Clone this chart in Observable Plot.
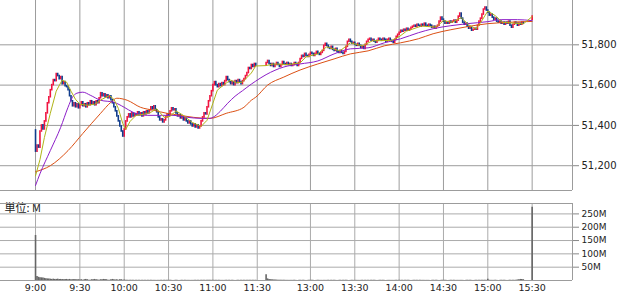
<!DOCTYPE html>
<html><head><meta charset="utf-8">
<script src="https://cdn.jsdelivr.net/npm/d3@7"></script>
<script src="https://cdn.jsdelivr.net/npm/@observablehq/plot@0.6"></script>
<style>
body{margin:0;background:#fff;}
#chart{width:618px;height:296px;position:relative;overflow:hidden;}
#chart svg{display:block;}
</style>
</head><body><div id="chart"></div>
<script>
// ---- data ----
const timeTicks = ["9:00","9:30","10:00","10:30","11:00","11:30","13:00","13:30","14:00","14:30","15:00","15:30"];
const priceTicks = [51200, 51400, 51600, 51800];
const volTicks = [50, 100, 150, 200, 250];

const firstOpen = 51375;
// 1-minute closes, 9:00 .. 11:29
const amClose = [
51270,51300,51290,51370,51400,51380,51420,51460,51510,51540,
51575,51600,51625,51620,51655,51645,51630,51640,51605,51615,
51595,51590,51575,51545,51520,51495,51510,51490,51505,51485,
51500,51515,51495,51505,51490,51510,51500,51520,51505,51515,
51500,51520,51510,51535,51560,51545,51555,51540,51550,51535,
51545,51525,51510,51490,51470,51445,51420,51395,51370,51345,
51380,51420,51440,51455,51440,51460,51445,51455,51450,51465,
51450,51460,51445,51465,51455,51470,51460,51475,51490,51480,
51495,51475,51465,51440,51425,51430,51415,51425,51440,51455,
51450,51470,51485,51475,51480,51460,51445,51450,51435,51440,
51425,51435,51420,51410,51420,51405,51395,51405,51390,51400,
51385,51395,51420,51440,51460,51455,51490,51520,51545,51570,
51600,51615,51600,51590,51605,51595,51610,51600,51620,51640,
51625,51615,51605,51615,51600,51620,51610,51625,51615,51605,
51620,51630,51645,51660,51685,51680,51700,51690,51705,51697];
// 1-minute closes, 12:30 .. 15:24
const pmClose = [
51710,51720,51705,51695,51705,51690,51700,51710,51700,51690,
51700,51715,51705,51700,51710,51700,51705,51695,51700,51710,
51705,51695,51710,51730,51745,51740,51755,51745,51740,51750,
51760,51755,51745,51755,51765,51755,51750,51760,51770,51795,
51805,51795,51785,51780,51790,51775,51770,51780,51765,51760,
51770,51760,51755,51765,51790,51815,51825,51815,51805,51810,
51800,51795,51805,51795,51785,51790,51780,51800,51815,51825,
51830,51820,51825,51815,51810,51820,51830,51825,51820,51830,
51825,51815,51825,51830,51820,51815,51810,51825,51840,51850,
51860,51870,51865,51875,51870,51880,51870,51875,51885,51890,
51895,51890,51900,51895,51890,51900,51895,51905,51895,51890,
51900,51895,51885,51890,51880,51890,51895,51915,51935,51925,
51915,51905,51910,51905,51915,51910,51915,51920,51910,51920,
51940,51955,51930,51910,51900,51905,51890,51880,51885,51870,
51875,51880,51875,51895,51915,51930,51950,51975,51985,51970,
51960,51945,51950,51935,51925,51930,51915,51910,51915,51905,
51910,51900,51910,51905,51915,51895,51885,51900,51910,51905,
51895,51905,51900,51910,51905];
// closing auction candle at 15:30
const closeOpen = 51925;
const closeClose = 51940;

// volumes in millions
const amVol = [
169,15,12,10,10,9,8,7,6,6,
5,4,5,4,4,5,4,4,4,3,
4,4,3,4,3,3,4,3,3,3,
2,3,1,3,4,3,1,1,3,3,
4,3,2,1,3,3,4,4,3,1,
1,3,4,3,2,3,1,3,3,1,
2,1,1,0.6,0.5,0.7,0.5,0.4,0.6,0.5,
0.5,0.4,0.6,0.5,0.5,0.4,0.6,0.5,0.7,0.5,
0.6,0.5,0.4,0.6,0.5,0.5,0.4,0.5,0.6,0.5,
0.5,0.6,0.5,0.4,0.5,0.5,0.6,0.4,0.5,0.5,
0.4,0.5,0.5,0.6,0.5,0.4,0.5,0.5,0.6,0.5,
0.5,0.4,0.6,0.7,0.6,0.5,0.8,0.9,0.8,0.7,
0.8,0.6,0.5,0.5,0.6,0.5,0.5,0.4,0.5,0.6,
0.5,0.5,0.4,0.5,0.5,0.4,0.5,0.5,0.4,0.5,
0.5,0.6,0.5,0.6,0.7,0.6,0.6,0.5,0.6,0.8];
const pmVol = [
22,6,4,3,3,2,2,1.5,1,1,
1,0.8,0.7,0.6,0.6,0.5,0.5,0.6,0.5,0.5,
0.5,0.4,0.6,0.5,0.5,0.6,0.5,0.4,0.5,0.5,
0.6,0.5,0.5,0.4,0.5,0.6,0.5,0.5,0.4,0.6,
0.5,0.5,0.6,0.4,0.5,0.5,0.6,0.5,0.4,0.5,
0.5,0.4,0.5,0.6,0.5,0.5,0.4,0.5,0.6,0.5,
0.5,0.6,0.5,0.4,0.5,0.5,0.4,0.6,0.5,0.5,
0.4,0.5,0.6,0.5,0.5,0.4,0.5,0.5,0.6,0.5,
0.5,0.4,0.5,0.6,0.5,0.5,0.4,0.5,0.6,0.5,
0.6,0.5,0.5,0.4,0.5,0.6,0.5,0.5,0.4,0.5,
0.5,0.6,0.5,0.4,0.5,0.5,0.6,0.5,0.4,0.5,
0.5,0.4,0.6,0.5,0.5,0.6,0.5,0.4,0.5,0.5,
0.6,0.5,0.5,0.4,0.5,0.6,0.5,0.5,0.4,0.5,
0.5,0.5,0.6,0.5,0.4,0.5,0.5,0.6,0.5,0.5,
0.4,0.5,0.6,0.5,0.5,0.6,0.5,0.7,0.8,0.6,
5,0.8,0.6,0.5,0.5,0.6,0.5,0.4,0.5,0.5,
0.6,0.5,0.5,0.4,0.5,0.6,0.5,0.5,0.6,0.5,
2,3,4,4,3];
const closeVol = 275;

// moving averages [time, price]
const oliveMA = [["9:00",51150],["9:03",51230],["9:06",51340],["9:10",51460],["9:14",51570],["9:18",51625],["9:21",51615],["9:24",51570],["9:27",51530],["9:30",51505],["9:35",51500],["9:40",51505],["9:45",51530],["9:50",51548],["9:53",51530],["9:56",51485],["9:59",51410],["10:01",51380],["10:04",51420],["10:08",51450],["10:13",51455],["10:18",51465],["10:22",51483],["10:27",51440],["10:31",51445],["10:35",51472],["10:40",51450],["10:46",51415],["10:52",51395],["10:56",51425],["11:00",51510],["11:03",51575],["11:08",51605],["11:12",51625],["11:16",51612],["11:20",51615],["11:26",51660],["11:29",51695],["12:30",51697],["12:35",51705],["12:45",51702],["12:53",51710],["12:57",51740],["13:05",51755],["13:11",51790],["13:20",51770],["13:27",51810],["13:35",51795],["13:42",51820],["13:55",51822],["14:00",51840],["14:05",51868],["14:15",51893],["14:25",51888],["14:30",51920],["14:36",51912],["14:42",51935],["14:47",51900],["14:52",51878],["14:56",51920],["15:00",51968],["15:05",51945],["15:10",51912],["15:24",51904],["15:30",51940]];
const purpleMA = [["9:00",51102],["9:03",51160],["9:10",51275],["9:17",51390],["9:22",51490],["9:25",51540],["9:28",51560],["9:32",51565],["9:37",51550],["9:44",51525],["9:53",51515],["10:00",51490],["10:06",51465],["10:16",51450],["10:25",51450],["10:33",51450],["10:43",51440],["10:52",51435],["10:58",51435],["11:00",51440],["11:05",51470],["11:10",51510],["11:15",51545],["11:20",51572],["11:26",51605],["11:29",51620],["12:30",51652],["12:42",51690],["12:53",51705],["13:05",51720],["13:16",51755],["13:27",51780],["13:39",51785],["13:50",51810],["14:01",51830],["14:13",51860],["14:23",51880],["14:35",51895],["14:46",51905],["15:00",51915],["15:09",51925],["15:20",51925],["15:30",51920]];
const orangeMA = [["9:00",51170],["9:10",51200],["9:22",51275],["9:32",51360],["9:44",51460],["9:51",51515],["9:55",51535],["10:02",51525],["10:11",51490],["10:20",51475],["10:29",51460],["10:38",51450],["10:47",51440],["10:58",51435],["11:09",51460],["11:21",51490],["11:26",51525],["11:29",51540],["12:31",51600],["12:42",51640],["12:53",51675],["13:05",51705],["13:16",51730],["13:27",51755],["13:39",51770],["13:50",51795],["14:01",51810],["14:13",51830],["14:23",51855],["14:35",51875],["14:46",51890],["15:00",51905],["15:09",51910],["15:30",51916]];

// ---- helpers ----
// compressed trading-time axis: morning session, short lunch gap, afternoon session
function pos(hm){
  const [h,m] = hm.split(":").map(Number);
  const mins = h*60+m;
  return mins <= 690 ? mins-540 : 156 + (mins-750);
}
const tickPos = timeTicks.map(pos);
const labelOf = new Map(timeTicks.map(t => [pos(t), t]));

const candles = [];
let prev = firstOpen;
amClose.forEach((c,i) => { candles.push({p:i, o:prev, c}); prev = c; });
pmClose.forEach((c,j) => { candles.push({p:pos("12:30")+j, o:prev, c}); prev = c; });
candles.push({p:pos("15:30"), o:closeOpen, c:closeClose});

const vols = [];
amVol.forEach((v,i) => vols.push({p:i, v}));
pmVol.forEach((v,j) => vols.push({p:pos("12:30")+j, v}));
vols.push({p:pos("15:30"), v:closeVol});

const toPts = arr => arr.map(([t,v]) => ({p:pos(t), v}));

const UP = "#f01440", DOWN = "#103c8c";
const GRID = "#9c9c9c";
const xDomain = [-23.7, 363.3];
const priceDomain = [51077, 52020];
const volDomain = [0, 289];

const priceChart = Plot.plot({
  width:618, height:191, marginTop:0, marginBottom:1, marginLeft:0, marginRight:46,
  style:{fontFamily:"DejaVu Sans", fontSize:"10px", color:"#222", background:"#fff"},
  x:{domain:xDomain, axis:null},
  y:{domain:priceDomain},
  marks:[
    Plot.gridX(tickPos, {stroke:GRID, strokeOpacity:1}),
    Plot.gridY(priceTicks, {stroke:GRID, strokeOpacity:1}),
    Plot.ruleX(candles.filter(d => d.c >= d.o), {x:"p", y1:"o", y2:"c", stroke:UP, strokeWidth:1.6, strokeLinecap:"square"}),
    Plot.ruleX(candles.filter(d => d.c < d.o), {x:"p", y1:"o", y2:"c", stroke:DOWN, strokeWidth:1.6, strokeLinecap:"square"}),
    Plot.line(toPts(orangeMA), {x:"p", y:"v", stroke:"#dc5014", strokeWidth:1, curve:"monotone-x"}),
    Plot.line(toPts(purpleMA), {x:"p", y:"v", stroke:"#8c1ec8", strokeWidth:1, curve:"monotone-x"}),
    Plot.line(toPts(oliveMA), {x:"p", y:"v", stroke:"#b0b418", strokeWidth:1}),
    Plot.axisY(priceTicks, {anchor:"right", tickSize:6, tickPadding:3, tickFormat:d3.format(","), stroke:"#888", fill:"#222", label:null}),
    Plot.ruleY([priceDomain[0]], {stroke:GRID}),
    Plot.ruleX([xDomain[1]], {stroke:GRID})
  ]
});

const volChart = Plot.plot({
  width:618, height:105, marginTop:12, marginBottom:16, marginLeft:0, marginRight:46,
  style:{fontFamily:"DejaVu Sans", fontSize:"9.5px", color:"#222", background:"#fff"},
  x:{domain:xDomain},
  y:{domain:volDomain},
  marks:[
    Plot.gridX(tickPos, {stroke:"#ababab", strokeOpacity:1}),
    Plot.gridY(volTicks, {stroke:"#ababab", strokeOpacity:1}),
    Plot.ruleX(vols, {x:"p", y1:0, y2:"v", stroke:"#666", strokeWidth:1.6}),
    Plot.axisX(tickPos, {tickSize:0, tickPadding:4, tickFormat:d => labelOf.get(d), fill:"#222", label:null}),
    Plot.axisY(volTicks, {anchor:"right", tickSize:6, tickPadding:3, tickFormat:d => d + "M", fontSize:9, stroke:"#888", fill:"#222", label:null}),
    Plot.text(["単位: M"], {text:d => d, frameAnchor:"top-left", textAnchor:"start", lineAnchor:"top", dx:4, dy:1, fontFamily:"Noto Sans CJK JP", fontSize:11, fill:"#222"}),
    Plot.ruleY(volDomain, {stroke:GRID}),
    Plot.ruleX([xDomain[1]], {stroke:GRID})
  ]
});

const root = document.getElementById("chart");
root.append(priceChart, volChart);
</script>
</body></html>
